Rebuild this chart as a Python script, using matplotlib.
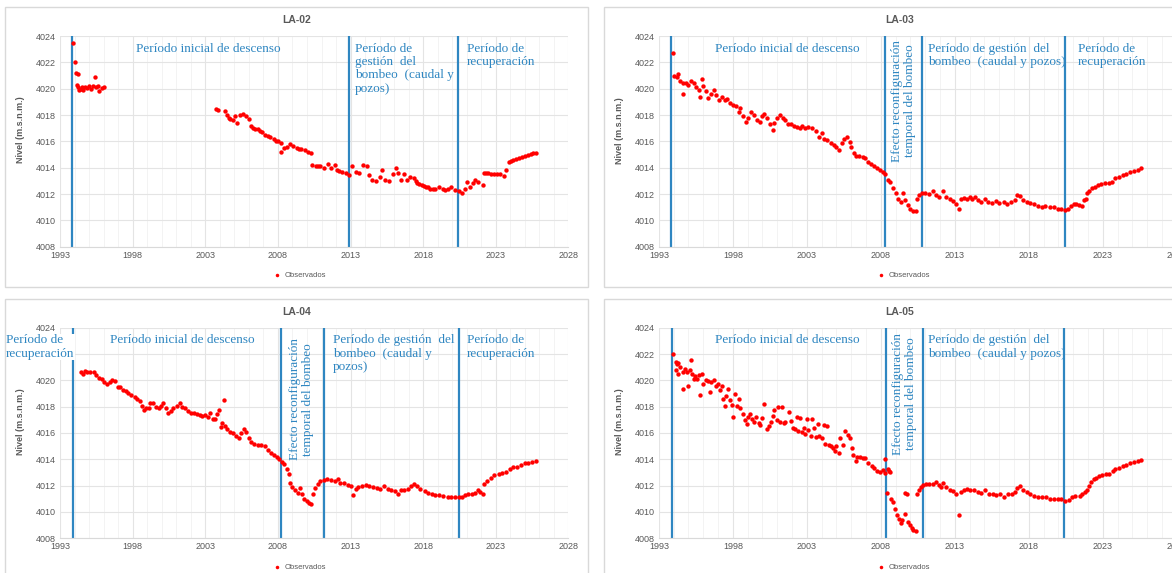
import numpy as np
import matplotlib.pyplot as plt
from matplotlib.patches import Rectangle

la02_obs = [
    (1993.85, 4023.5), (1994.0, 4022.0), (1994.1, 4021.2), (1994.2, 4021.1), (1994.15, 4020.3),
    (1994.25, 4020.1), (1994.3, 4019.9), (1994.4, 4020.0), (1994.5, 4020.1), (1994.6, 4019.9),
    (1994.7, 4020.15), (1994.85, 4020.05), (1995.0, 4020.2), (1995.1, 4020.0), (1995.25, 4020.2),
    (1995.4, 4020.9), (1995.5, 4020.1), (1995.6, 4020.2), (1995.7, 4019.85), (1995.85, 4020.05),
    (1996.0, 4020.1),
    (2003.7, 4018.43), (2003.9, 4018.4), (2004.35, 4018.3), (2004.5, 4018.0), (2004.6, 4017.8),
    (2004.7, 4017.7), (2004.9, 4017.6), (2005.05, 4017.9), (2005.2, 4017.4), (2005.4, 4018.0),
    (2005.6, 4018.1), (2005.8, 4017.9), (2006.0, 4017.7), (2006.15, 4017.2), (2006.3, 4017.0),
    (2006.45, 4016.95), (2006.6, 4016.9), (2006.75, 4016.8), (2006.9, 4016.7), (2007.1, 4016.5),
    (2007.3, 4016.4), (2007.45, 4016.3), (2007.7, 4016.15), (2007.85, 4016.05), (2008.0, 4016.0),
    (2008.2, 4015.9), (2008.2, 4015.2), (2008.4, 4015.5), (2008.6, 4015.6), (2008.8, 4015.8),
    (2009.05, 4015.65), (2009.3, 4015.5), (2009.45, 4015.45), (2009.6, 4015.4), (2009.85, 4015.35),
    (2010.1, 4015.2), (2010.3, 4015.15),
    (2010.35, 4014.2), (2010.6, 4014.15), (2010.75, 4014.1), (2010.9, 4014.1), (2011.2, 4014.0),
    (2011.45, 4014.3), (2011.65, 4013.95), (2011.9, 4014.2), (2012.05, 4013.8), (2012.2, 4013.75),
    (2012.4, 4013.7), (2012.7, 4013.6), (2012.9, 4013.45), (2013.1, 4014.1), (2013.35, 4013.7),
    (2013.6, 4013.6), (2013.85, 4014.2), (2014.1, 4014.1), (2014.3, 4013.45), (2014.5, 4013.1),
    (2014.75, 4013.0), (2015.0, 4013.3), (2015.2, 4013.8), (2015.4, 4013.1), (2015.65, 4013.0),
    (2015.9, 4013.5), (2016.1, 4014.0), (2016.3, 4013.6), (2016.45, 4013.1), (2016.7, 4013.5),
    (2016.9, 4013.1), (2017.1, 4013.3), (2017.35, 4013.2), (2017.5, 4013.0), (2017.6, 4012.8),
    (2017.75, 4012.75), (2017.9, 4012.7), (2018.05, 4012.6), (2018.2, 4012.55), (2018.35, 4012.5),
    (2018.5, 4012.4), (2018.7, 4012.4), (2018.85, 4012.35), (2019.1, 4012.5), (2019.35, 4012.35),
    (2019.5, 4012.3), (2019.7, 4012.4), (2019.95, 4012.55), (2020.2, 4012.3), (2020.45, 4012.2),
    (2020.65, 4012.05), (2020.85, 4012.4), (2021.0, 4012.9), (2021.25, 4012.55), (2021.45, 4012.8),
    (2021.6, 4013.1), (2021.8, 4012.9), (2022.1, 4012.7), (2022.2, 4013.6), (2022.35, 4013.6),
    (2022.5, 4013.6), (2022.7, 4013.55), (2022.9, 4013.55), (2023.1, 4013.5), (2023.3, 4013.5),
    (2023.55, 4013.35), (2023.7, 4013.8), (2023.9, 4014.45), (2024.05, 4014.5), (2024.2, 4014.6),
    (2024.4, 4014.65), (2024.6, 4014.7), (2024.8, 4014.8), (2025.0, 4014.9), (2025.2, 4015.0),
    (2025.4, 4015.05), (2025.6, 4015.1), (2025.8, 4015.15),
]

la03_obs = [
    (1993.95, 4022.7), (1994.05, 4020.95), (1994.2, 4020.85), (1994.3, 4021.15), (1994.4, 4020.55),
    (1994.6, 4020.4), (1994.65, 4019.6), (1994.85, 4020.45), (1995.0, 4020.3), (1995.15, 4020.6),
    (1995.35, 4020.4), (1995.5, 4020.1), (1995.7, 4019.9), (1995.8, 4019.35), (1995.9, 4020.75),
    (1996.0, 4020.2), (1996.2, 4019.8), (1996.35, 4019.3), (1996.5, 4019.6), (1996.7, 4019.9),
    (1996.85, 4019.5), (1997.05, 4019.15), (1997.25, 4019.4), (1997.45, 4019.15), (1997.6, 4019.25),
    (1997.8, 4018.95), (1998.0, 4018.75), (1998.2, 4018.65), (1998.4, 4018.25), (1998.5, 4018.5),
    (1998.7, 4017.9), (1998.9, 4017.5), (1999.0, 4017.75), (1999.25, 4018.25), (1999.4, 4018.0),
    (1999.6, 4017.6), (1999.8, 4017.5), (2000.0, 4017.9), (2000.1, 4018.1), (2000.3, 4017.75),
    (2000.5, 4017.35), (2000.7, 4016.85), (2000.8, 4017.4), (2001.0, 4017.75), (2001.2, 4018.0),
    (2001.4, 4017.75), (2001.55, 4017.6), (2001.75, 4017.35), (2001.95, 4017.3), (2002.15, 4017.15),
    (2002.35, 4017.1), (2002.55, 4017.0), (2002.7, 4017.15), (2002.9, 4017.0), (2003.1, 4017.1),
    (2003.35, 4017.0), (2003.6, 4016.75), (2003.8, 4016.35), (2004.0, 4016.6), (2004.15, 4016.2),
    (2004.35, 4016.1), (2004.6, 4015.85), (2004.85, 4015.7), (2005.0, 4015.6), (2005.2, 4015.35),
    (2005.35, 4015.9), (2005.5, 4016.15), (2005.7, 4016.35), (2005.9, 4015.95), (2006.0, 4015.6),
    (2006.2, 4015.1), (2006.35, 4014.85), (2006.55, 4014.9), (2006.8, 4014.8), (2006.95, 4014.7),
    (2007.15, 4014.45), (2007.35, 4014.3), (2007.55, 4014.1), (2007.75, 4013.95), (2007.95, 4013.8),
    (2008.15, 4013.7), (2008.3, 4013.55), (2008.45, 4013.05), (2008.65, 4012.95), (2008.8, 4012.45),
    (2009.0, 4012.05), (2009.15, 4011.65), (2009.35, 4011.4), (2009.5, 4012.05), (2009.65, 4011.55),
    (2009.85, 4011.15), (2010.0, 4010.9), (2010.2, 4010.7), (2010.35, 4010.7),
    (2010.45, 4011.6), (2010.6, 4011.9), (2010.75, 4012.05), (2011.0, 4012.05), (2011.25, 4012.0),
    (2011.5, 4012.2), (2011.7, 4011.9), (2011.95, 4011.8), (2012.2, 4012.2), (2012.4, 4011.8),
    (2012.65, 4011.6), (2012.9, 4011.5), (2013.1, 4011.25), (2013.25, 4010.85), (2013.4, 4011.6),
    (2013.6, 4011.7), (2013.8, 4011.6), (2014.0, 4011.75), (2014.15, 4011.6), (2014.35, 4011.75),
    (2014.55, 4011.55), (2014.8, 4011.4), (2015.05, 4011.6), (2015.25, 4011.4), (2015.5, 4011.35),
    (2015.75, 4011.5), (2016.0, 4011.3), (2016.3, 4011.4), (2016.55, 4011.25), (2016.8, 4011.4),
    (2017.05, 4011.55), (2017.2, 4011.9), (2017.4, 4011.85), (2017.6, 4011.55), (2017.85, 4011.4),
    (2018.1, 4011.3), (2018.35, 4011.25), (2018.6, 4011.1), (2018.9, 4011.05), (2019.1, 4011.1),
    (2019.4, 4011.0), (2019.7, 4011.0), (2019.95, 4010.9), (2020.2, 4010.85), (2020.45, 4010.8),
    (2020.65, 4010.85), (2020.85, 4011.1), (2021.05, 4011.25), (2021.2, 4011.25), (2021.4, 4011.15),
    (2021.6, 4011.1), (2021.7, 4011.55), (2021.85, 4011.6), (2021.95, 4012.05), (2022.1, 4012.25),
    (2022.3, 4012.45), (2022.5, 4012.55), (2022.7, 4012.7), (2022.9, 4012.75), (2023.15, 4012.8),
    (2023.4, 4012.85), (2023.6, 4012.95), (2023.85, 4013.25), (2024.1, 4013.3), (2024.35, 4013.45),
    (2024.6, 4013.55), (2024.85, 4013.7), (2025.1, 4013.75), (2025.35, 4013.85), (2025.6, 4013.95),
]

la04_obs = [
    (1994.4, 4020.65), (1994.55, 4020.5), (1994.7, 4020.7), (1994.85, 4020.6), (1995.05, 4020.65),
    (1995.3, 4020.6), (1995.45, 4020.4), (1995.65, 4020.2), (1995.85, 4020.1), (1996.05, 4019.9),
    (1996.25, 4019.7), (1996.4, 4019.9), (1996.6, 4020.05), (1996.75, 4019.95), (1996.95, 4019.5),
    (1997.15, 4019.5), (1997.35, 4019.3), (1997.55, 4019.2), (1997.7, 4019.05), (1997.9, 4018.9),
    (1998.15, 4018.75), (1998.3, 4018.55), (1998.5, 4018.4), (1998.65, 4018.05), (1998.75, 4017.75),
    (1998.9, 4017.9), (1999.1, 4017.9), (1999.2, 4018.3), (1999.4, 4018.25), (1999.6, 4018.0),
    (1999.8, 4017.9), (1999.95, 4018.05), (2000.1, 4018.25), (2000.3, 4017.9), (2000.45, 4017.55),
    (2000.65, 4017.7), (2000.8, 4017.9), (2001.05, 4018.05), (2001.25, 4018.25), (2001.4, 4018.0),
    (2001.6, 4017.9), (2001.8, 4017.7), (2002.0, 4017.55), (2002.2, 4017.5), (2002.4, 4017.45),
    (2002.6, 4017.35), (2002.8, 4017.3), (2003.0, 4017.35), (2003.15, 4017.25), (2003.3, 4017.5),
    (2003.5, 4017.05), (2003.65, 4017.1), (2003.8, 4017.45), (2003.95, 4017.75), (2004.05, 4016.45),
    (2004.15, 4016.75), (2004.25, 4018.5), (2004.35, 4016.5), (2004.5, 4016.3), (2004.7, 4016.1),
    (2004.9, 4016.0), (2005.1, 4015.75), (2005.3, 4015.65), (2005.45, 4016.0), (2005.65, 4016.3),
    (2005.8, 4016.1), (2006.0, 4015.6), (2006.15, 4015.3), (2006.35, 4015.2), (2006.6, 4015.1),
    (2006.85, 4015.1), (2007.1, 4015.0), (2007.3, 4014.7), (2007.5, 4014.5), (2007.7, 4014.3),
    (2007.9, 4014.2), (2008.05, 4014.0), (2008.25, 4013.8), (2008.4, 4013.65), (2008.6, 4013.3),
    (2008.75, 4012.9), (2008.85, 4012.2), (2009.0, 4011.9), (2009.2, 4011.7), (2009.35, 4011.45),
    (2009.55, 4011.85), (2009.65, 4011.4), (2009.8, 4011.0), (2010.0, 4010.8), (2010.15, 4010.65),
    (2010.3, 4010.6), (2010.4, 4011.4), (2010.55, 4011.85), (2010.75, 4012.15), (2010.9, 4012.35),
    (2011.15, 4012.4), (2011.4, 4012.5), (2011.65, 4012.4), (2011.9, 4012.35), (2012.15, 4012.5),
    (2012.3, 4012.2), (2012.55, 4012.2), (2012.8, 4012.05), (2013.05, 4012.0), (2013.2, 4011.3),
    (2013.35, 4011.75), (2013.5, 4011.9), (2013.8, 4011.95), (2014.05, 4012.05), (2014.3, 4012.0),
    (2014.55, 4011.9), (2014.8, 4011.85), (2015.05, 4011.75), (2015.3, 4011.95), (2015.55, 4011.75),
    (2015.8, 4011.7), (2016.05, 4011.6), (2016.25, 4011.4), (2016.45, 4011.7), (2016.7, 4011.65),
    (2016.95, 4011.75), (2017.15, 4012.0), (2017.35, 4012.15), (2017.55, 4011.95), (2017.8, 4011.75),
    (2018.1, 4011.6), (2018.35, 4011.45), (2018.6, 4011.4), (2018.85, 4011.3), (2019.1, 4011.3),
    (2019.35, 4011.25), (2019.7, 4011.15), (2019.95, 4011.15), (2020.2, 4011.1), (2020.45, 4011.1),
    (2020.65, 4011.15), (2020.85, 4011.3), (2021.1, 4011.35), (2021.35, 4011.35), (2021.6, 4011.45),
    (2021.8, 4011.65), (2021.95, 4011.55), (2022.1, 4011.35), (2022.2, 4012.15), (2022.4, 4012.35),
    (2022.65, 4012.6), (2022.9, 4012.8), (2023.2, 4012.85), (2023.45, 4012.95), (2023.7, 4013.05),
    (2023.95, 4013.3), (2024.2, 4013.4), (2024.5, 4013.45), (2024.75, 4013.55), (2025.0, 4013.7),
    (2025.25, 4013.75), (2025.5, 4013.8), (2025.75, 4013.9),
]

la05_obs = [
    (1993.95, 4022.0), (1994.15, 4021.4), (1994.25, 4021.25), (1994.3, 4021.35), (1994.15, 4020.8),
    (1994.3, 4020.5), (1994.45, 4021.0), (1994.6, 4020.6), (1994.65, 4019.35), (1994.75, 4020.85),
    (1994.9, 4020.65), (1995.0, 4019.6), (1995.1, 4020.8), (1995.2, 4021.55), (1995.25, 4020.5),
    (1995.35, 4020.1), (1995.45, 4020.35), (1995.6, 4020.1), (1995.7, 4020.4), (1995.75, 4018.9),
    (1995.9, 4020.45), (1996.0, 4019.7), (1996.2, 4020.05), (1996.3, 4019.95), (1996.45, 4019.1),
    (1996.55, 4019.85), (1996.75, 4020.05), (1996.85, 4019.6), (1997.0, 4019.75), (1997.1, 4019.25),
    (1997.25, 4019.6), (1997.3, 4018.6), (1997.45, 4018.05), (1997.55, 4018.8), (1997.7, 4019.35),
    (1997.8, 4018.5), (1997.95, 4018.15), (1998.0, 4017.2), (1998.15, 4018.95), (1998.25, 4018.05),
    (1998.4, 4018.6), (1998.5, 4017.9), (1998.65, 4017.45), (1998.8, 4017.0), (1998.95, 4016.7),
    (1999.05, 4017.25), (1999.15, 4017.45), (1999.3, 4017.1), (1999.4, 4016.8), (1999.55, 4017.25),
    (1999.75, 4016.75), (1999.85, 4016.6), (2000.0, 4017.15), (2000.1, 4018.2), (2000.3, 4016.3),
    (2000.45, 4016.5), (2000.55, 4016.8), (2000.7, 4017.3), (2000.8, 4017.75), (2000.95, 4017.0),
    (2001.05, 4018.0), (2001.2, 4016.85), (2001.3, 4018.0), (2001.45, 4016.75), (2001.55, 4016.8),
    (2001.8, 4017.6), (2001.9, 4016.9), (2002.05, 4016.4), (2002.2, 4016.3), (2002.3, 4017.25),
    (2002.4, 4016.15), (2002.55, 4017.15), (2002.65, 4016.1), (2002.8, 4016.35), (2002.9, 4015.9),
    (2003.0, 4017.05), (2003.1, 4016.2), (2003.25, 4015.8), (2003.35, 4017.1), (2003.5, 4016.35),
    (2003.6, 4015.7), (2003.75, 4016.7), (2003.85, 4015.8), (2004.05, 4015.65), (2004.15, 4016.6),
    (2004.25, 4015.2), (2004.35, 4016.5), (2004.5, 4015.1), (2004.6, 4015.0), (2004.75, 4014.85),
    (2004.9, 4014.65), (2005.0, 4015.05), (2005.15, 4014.5), (2005.25, 4015.65), (2005.45, 4015.1),
    (2005.6, 4016.15), (2005.75, 4015.85), (2005.9, 4015.6), (2006.05, 4014.85), (2006.15, 4014.3),
    (2006.3, 4013.9), (2006.4, 4014.2), (2006.6, 4014.2), (2006.8, 4014.1), (2006.95, 4014.1),
    (2007.15, 4013.7), (2007.4, 4013.5), (2007.55, 4013.35), (2007.75, 4013.15), (2007.95, 4013.05),
    (2008.15, 4013.2), (2008.25, 4014.0), (2008.3, 4012.95), (2008.45, 4013.3), (2008.55, 4013.1),
    (2008.65, 4013.05), (2008.4, 4011.45), (2008.7, 4010.95), (2008.8, 4010.75), (2008.95, 4010.2),
    (2009.1, 4009.75), (2009.2, 4009.45), (2009.35, 4009.2), (2009.45, 4009.4), (2009.6, 4009.85),
    (2009.65, 4011.45), (2009.75, 4011.35), (2009.85, 4009.25), (2009.95, 4009.0), (2010.1, 4008.8),
    (2010.2, 4008.65), (2010.35, 4008.55), (2010.45, 4011.35), (2010.55, 4011.7), (2010.7, 4011.9),
    (2010.85, 4012.05), (2011.05, 4012.1), (2011.25, 4012.1), (2011.5, 4012.15), (2011.7, 4012.3),
    (2011.9, 4012.05), (2012.05, 4011.9), (2012.2, 4012.2), (2012.4, 4011.9), (2012.65, 4011.7),
    (2012.9, 4011.6), (2013.1, 4011.35), (2013.25, 4009.8), (2013.4, 4011.5), (2013.6, 4011.7),
    (2013.8, 4011.75), (2014.05, 4011.7), (2014.3, 4011.65), (2014.55, 4011.55), (2014.8, 4011.45),
    (2015.05, 4011.65), (2015.3, 4011.35), (2015.55, 4011.4), (2015.8, 4011.3), (2016.05, 4011.35),
    (2016.35, 4011.15), (2016.6, 4011.35), (2016.85, 4011.4), (2017.05, 4011.5), (2017.2, 4011.85),
    (2017.4, 4011.95), (2017.6, 4011.65), (2017.85, 4011.5), (2018.1, 4011.35), (2018.35, 4011.25),
    (2018.6, 4011.15), (2018.9, 4011.1), (2019.15, 4011.1), (2019.4, 4011.0), (2019.7, 4011.0),
    (2019.95, 4010.95), (2020.2, 4010.95), (2020.45, 4010.85), (2020.7, 4010.9), (2020.95, 4011.1),
    (2021.15, 4011.2), (2021.45, 4011.25), (2021.6, 4011.4), (2021.8, 4011.5), (2021.95, 4011.7),
    (2022.05, 4012.0), (2022.2, 4012.25), (2022.4, 4012.5), (2022.55, 4012.6), (2022.75, 4012.75),
    (2022.95, 4012.8), (2023.2, 4012.85), (2023.45, 4012.9), (2023.7, 4013.1), (2023.85, 4013.3),
    (2024.1, 4013.35), (2024.35, 4013.5), (2024.6, 4013.6), (2024.85, 4013.7), (2025.1, 4013.8),
    (2025.35, 4013.85), (2025.6, 4013.95),
]

# period boundaries (year)
la02_lines = [1993.83, 2012.9, 2020.38]
la03_lines = [1993.8, 2008.27, 2010.76, 2020.46]
la04_lines = [1993.85, 2008.18, 2011.19, 2020.5]
la05_lines = [1993.9, 2008.34, 2010.84, 2020.38]

# period labels: (text, year of left edge)
la02_labels = [("Período inicial de descenso", 1998.2),
               ("Período de\ngestión  del\nbombeo  (caudal y\npozos)", 2013.3),
               ("Período de\nrecuperación", 2021.0)]
la03_labels = [("Período inicial de descenso", 1996.8),
               ("Período de gestión  del\nbombeo  (caudal y pozos)", 2011.2),
               ("Período de\nrecuperación", 2021.3)]
la04_labels = [("Período de\nrecuperación", 1989.25),
               ("Período inicial de descenso", 1996.4),
               ("Período de gestión  del\nbombeo  (caudal y\npozos)", 2011.8),
               ("Período de\nrecuperación", 2021.0)]
la05_labels = [("Período inicial de descenso", 1996.8),
               ("Período de gestión  del\nbombeo  (caudal y pozos)", 2011.2)]
efecto_text = "Efecto reconfiguración\ntemporal del bombeo"

W, H = 1172, 573
BLUE = '#2E86C1'
GRAY = '#595959'
SERIF = 'Liberation Serif'
SANS = 'Liberation Sans'

fig = plt.figure(figsize=(W / 100, H / 100), dpi=100)
fig.patch.set_facecolor('white')


def px(x0, y0, x1, y1):
    return [x0 / W, 1 - y1 / H, (x1 - x0) / W, (y1 - y0) / H]


def panel(rect, frame, title, obs, lines, labels, efecto, ylab_x, ylab_y, title_xy, leg_xy):
    fr = frame
    fig.add_artist(Rectangle((fr[0] / W, 1 - fr[3] / H), (fr[2] - fr[0]) / W, (fr[3] - fr[1]) / H,
                             transform=fig.transFigure, fill=False, edgecolor='#D9D9D9', lw=1))
    ax = fig.add_axes(px(*rect))
    ax.set_xlim(1993, 2028)
    ax.set_ylim(4008, 4024)
    ax.set_xticks(np.arange(1993, 2029, 5))
    ax.set_xticks(np.arange(1993, 2029, 1), minor=True)
    ax.set_yticks(np.arange(4008, 4025, 2))
    ax.grid(which='major', color='#E4E4E4', lw=0.8)
    ax.grid(which='minor', axis='x', color='#F1F1F1', lw=0.6)
    ax.set_axisbelow(True)
    for s in ['top', 'right', 'left']:
        ax.spines[s].set_visible(False)
    ax.spines['bottom'].set_color('#D9D9D9')
    ax.tick_params(which='both', length=0, labelsize=6.5, labelcolor=GRAY, pad=3)
    for lab in ax.get_xticklabels() + ax.get_yticklabels():
        lab.set_fontfamily(SANS)

    yr = [p[0] for p in obs]
    lv = [p[1] for p in obs]
    sc = ax.scatter(yr, lv, s=10, color='#FF0000', linewidths=0, zorder=3, label='Observados')

    for x in lines:
        ax.axvline(x, color=BLUE, lw=1.6, zorder=2)

    for txt, x in labels:
        t = ax.text(x, 4023.5, txt, color=BLUE, fontsize=9.5, family=SERIF, ha='left', va='top',
                    linespacing=1.15, clip_on=False, zorder=5)
        if x < 1993:
            # label left of the axis sits over the tick labels on a white box
            t.set_bbox(dict(facecolor='white', edgecolor='none', pad=0.5))
    if efecto is not None:
        ex, ey = efecto
        ax.text(ex, ey, efecto_text, color=BLUE, fontsize=9.5, family=SERIF, rotation=90,
                ha='center', va='top', linespacing=1.15)

    fig.text(title_xy[0] / W, 1 - title_xy[1] / H, title, ha='center', va='center',
             fontsize=7.5, fontweight='bold', color=GRAY, family=SANS)
    fig.text(ylab_x / W, 1 - ylab_y / H, 'Nivel (m.s.n.m.)', rotation=90, ha='center', va='center',
             fontsize=6.5, fontweight='bold', color=GRAY, family=SANS)
    leg = ax.legend(handles=[sc], loc='center', bbox_to_anchor=(leg_xy[0] / W, 1 - leg_xy[1] / H),
                    bbox_transform=fig.transFigure, frameon=False, fontsize=5.5,
                    handletextpad=0.0, markerscale=0.8, borderpad=0)
    for t in leg.get_texts():
        t.set_color(GRAY)
        t.set_family(SANS)
    return ax


panel((60.2, 36, 568.3, 246.7), (5, 7, 588, 287), 'LA-02', la02_obs, la02_lines, la02_labels,
      None, 20.7, 130, (297, 20), (298, 275))
panel((658.9, 36, 1176.8, 246.7), (604, 7, 1200, 287), 'LA-03', la03_obs, la03_lines, la03_labels,
      (2009.55, 4023.7), 620, 131, (900, 20), (902, 275))
panel((60.2, 327.7, 568.3, 538.3), (5, 299, 588, 600), 'LA-04', la04_obs, la04_lines, la04_labels,
      (2009.6, 4023.2), 20.7, 422, (297, 312), (298, 567))
panel((658.9, 327.7, 1176.8, 538.3), (604, 299, 1200, 600), 'LA-05', la05_obs, la05_lines, la05_labels,
      (2009.6, 4023.6), 620, 422, (900, 312), (902, 567))

fig.savefig('out.png', dpi=100, facecolor='white')
